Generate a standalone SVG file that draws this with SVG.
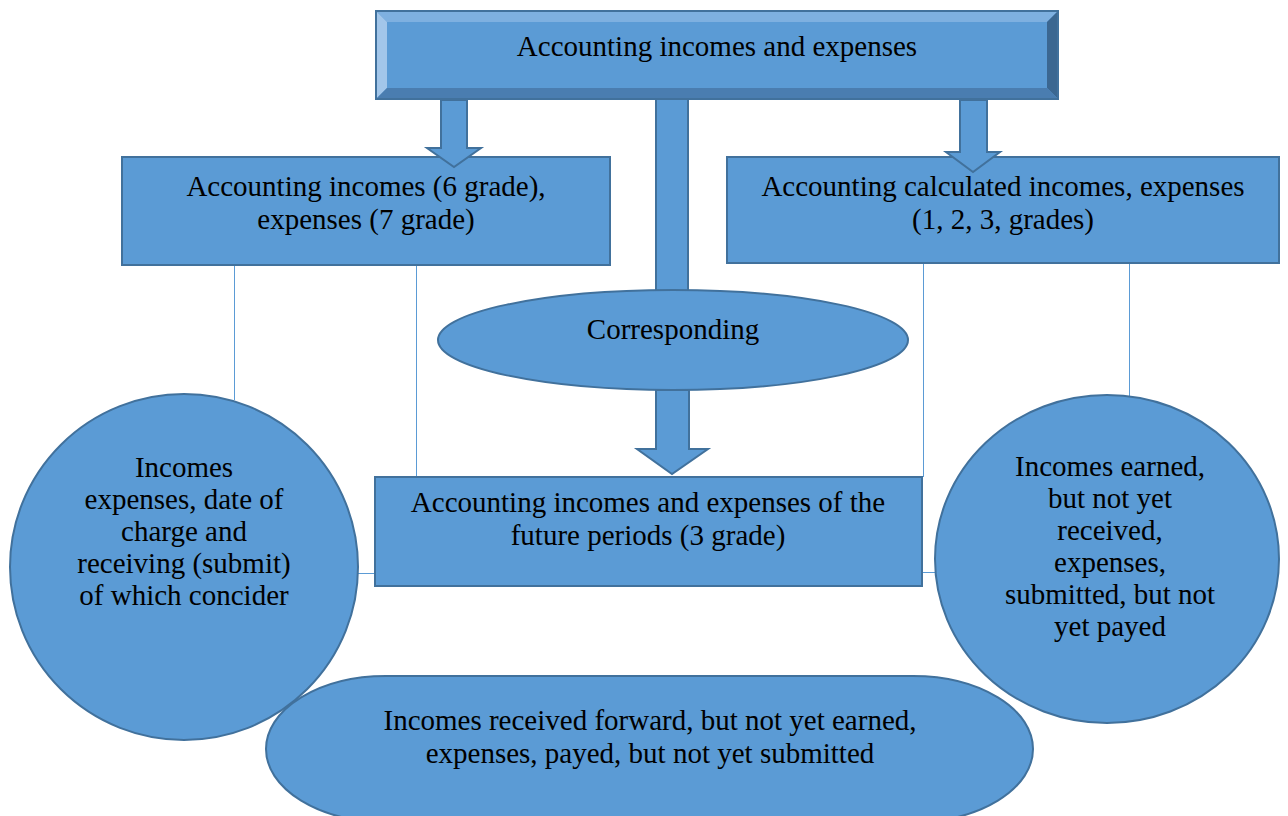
<svg xmlns="http://www.w3.org/2000/svg" width="1288" height="816" viewBox="0 0 1288 816">
<style>
.s{fill:#5b9bd5;stroke:#41719c;stroke-width:2}
.ln{stroke:#5b9bd5;stroke-width:1;fill:none}
.t{font-family:"Liberation Serif","Times New Roman",serif;font-size:29px;fill:#000;text-anchor:middle}
</style>
<rect width="1288" height="816" fill="#fff"/>
<g id="connectors">
<line class="ln" x1="234.5" y1="265" x2="234.5" y2="400"/>
<line class="ln" x1="416.5" y1="265" x2="416.5" y2="477"/>
<line class="ln" x1="923.5" y1="263" x2="923.5" y2="477"/>
<line class="ln" x1="1129.5" y1="263" x2="1129.5" y2="396"/>
<line class="ln" x1="356" y1="573.5" x2="376" y2="573.5"/>
<line class="ln" x1="922" y1="572.5" x2="937" y2="572.5"/>
<rect class="s" x="656" y="97" width="32" height="200"/>
</g>
<g id="top">
<rect x="376" y="11" width="682" height="88" fill="#5b9bd5"/>
<polygon points="376,11 1058,11 1047,22 387,22" fill="#7eb0e0"/>
<polygon points="376,11 387,22 387,88 376,99" fill="#a2c6ea"/>
<polygon points="1058,11 1058,99 1047,88 1047,22" fill="#3b6791"/>
<polygon points="376,99 387,88 1047,88 1058,99" fill="#4a7db0"/>
<rect x="376" y="11" width="682" height="88" fill="none" stroke="#41719c" stroke-width="2"/>
<text class="t" x="717" y="56">Accounting incomes and expenses</text>
</g>
<g id="left-box">
<rect class="s" x="122" y="157" width="488" height="108"/>
<text class="t" x="366" y="196">Accounting incomes (6 grade),</text>
<text class="t" x="366" y="229">expenses (7 grade)</text>
</g>
<g id="right-box">
<rect class="s" x="727" y="157" width="552" height="106"/>
<text class="t" x="1003" y="196">Accounting calculated incomes, expenses</text>
<text class="t" x="1003" y="229">(1, 2, 3, grades)</text>
</g>
<g id="arrow-left">
<polygon class="s" points="441,100 467,100 467,148 481,148 454,167 427,148 441,148"/>
</g>
<g id="arrow-right">
<polygon class="s" points="960,100 987,100 987,152 1000,152 973,172 946,152 960,152"/>
</g>
<g id="corresponding">
<ellipse class="s" cx="673" cy="340" rx="235" ry="50"/>
<text class="t" x="673" y="339">Corresponding</text>
</g>
<g id="arrow-down">
<polygon class="s" points="656,390 689,390 689,449 708,449 672,474 637,449 656,449"/>
</g>
<g id="future-box">
<rect class="s" x="375" y="477" width="547" height="109"/>
<text class="t" x="648" y="512">Accounting incomes and expenses of the</text>
<text class="t" x="648" y="545">future periods (3 grade)</text>
</g>
<g id="left-circle">
<ellipse class="s" cx="184" cy="567" rx="174" ry="173"/>
<text class="t" x="184" y="477">Incomes</text>
<text class="t" x="184" y="509">expenses, date of</text>
<text class="t" x="184" y="541">charge and</text>
<text class="t" x="184" y="573">receiving (submit)</text>
<text class="t" x="184" y="605">of which concider</text>
</g>
<g id="right-circle">
<ellipse class="s" cx="1107" cy="559" rx="172" ry="164"/>
<text class="t" x="1110" y="476">Incomes earned,</text>
<text class="t" x="1110" y="508">but not yet</text>
<text class="t" x="1110" y="540">received,</text>
<text class="t" x="1110" y="572">expenses,</text>
<text class="t" x="1110" y="604">submitted, but not</text>
<text class="t" x="1110" y="636">yet payed</text>
</g>
<g id="bottom">
<rect class="s" x="266" y="676" width="767" height="146" rx="120" ry="73"/>
<text class="t" x="650" y="730">Incomes received forward, but not yet earned,</text>
<text class="t" x="650" y="763">expenses, payed, but not yet submitted</text>
</g>
</svg>
